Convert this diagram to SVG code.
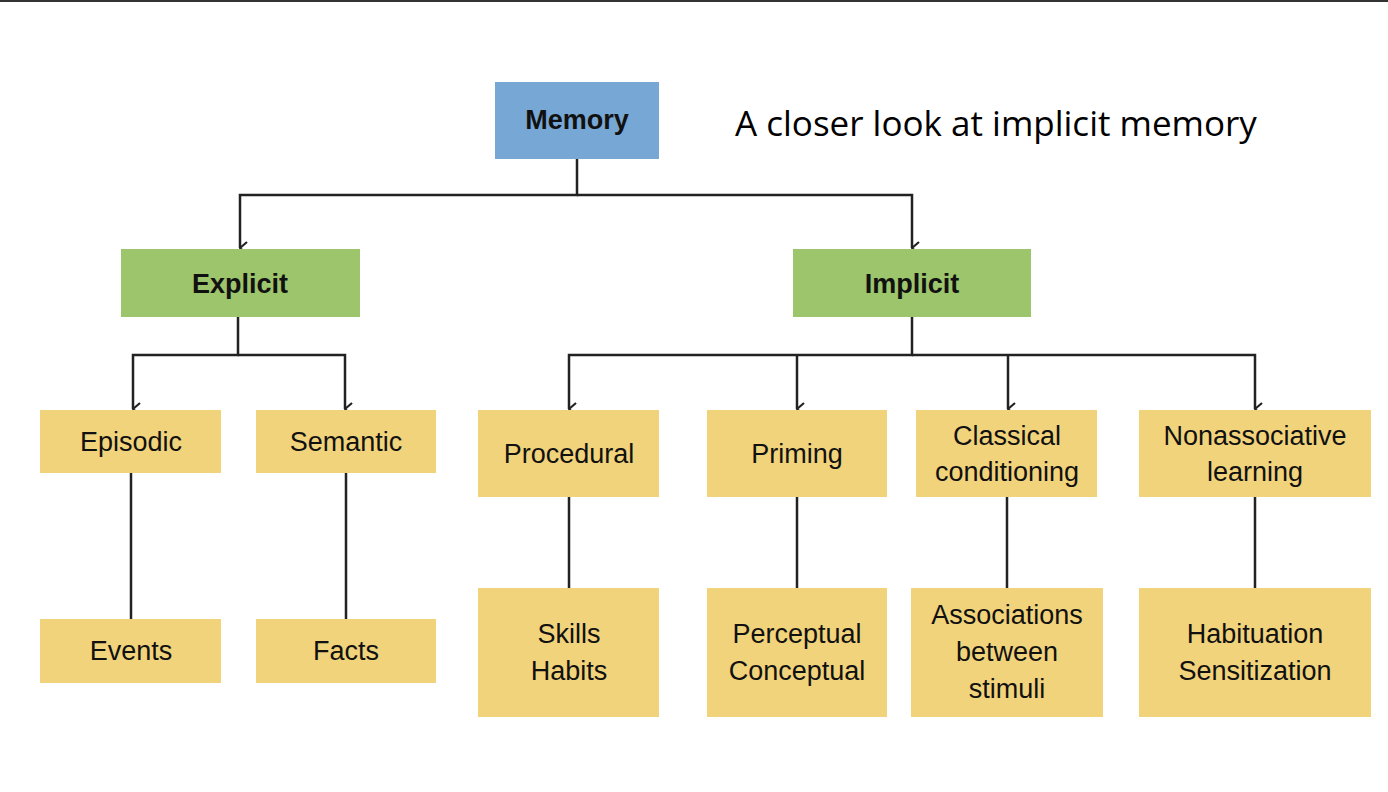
<svg xmlns="http://www.w3.org/2000/svg" width="1388" height="792" viewBox="0 0 1388 792">
<defs>
<style>
.y{fill:#f1d37b}
.t{font-family:"Liberation Sans",Arial,sans-serif;font-size:27px;fill:#111;text-anchor:middle}
.b{font-weight:bold}
.c{stroke:#222;stroke-width:2.5;fill:none}
</style>
<marker id="a" markerWidth="14" markerHeight="10" refX="7" refY="9" orient="auto" markerUnits="userSpaceOnUse" viewBox="0 0 14 10"><path d="M1 2 L7 9 L13 2" fill="none" stroke="#222" stroke-width="2.2"/></marker>
</defs>
<rect width="1388" height="792" fill="#fff"/>
<line x1="0" y1="1" x2="1388" y2="1" stroke="#333" stroke-width="2"/>
<text x="735" y="136" font-family="'Open Sans',sans-serif" font-size="35" fill="#000">A closer look at implicit memory</text>
<g id="connectors" class="c">
<path d="M577 159 V195 H240 V248" marker-end="url(#a)"/>
<path d="M577 195 H912 V248" marker-end="url(#a)"/>
<path d="M238 317 V355 H133 V409" marker-end="url(#a)"/>
<path d="M238 355 H345 V409" marker-end="url(#a)"/>
<path d="M912 317 V355 H569 V409" marker-end="url(#a)"/>
<path d="M797 355 V409" marker-end="url(#a)"/>
<path d="M1008 355 V409" marker-end="url(#a)"/>
<path d="M912 355 H1255 V409" marker-end="url(#a)"/>
<path d="M131 473 V619 M346 473 V619 M569 497 V588 M797 497 V588 M1007 497 V588 M1255 497 V588"/>
</g>
<g id="memory"><rect x="495" y="82" width="164" height="77" fill="#77a7d4"/><text class="t b" x="577" y="129">Memory</text></g>
<g id="explicit"><rect x="121" y="249" width="239" height="68" fill="#9dc56b"/><text class="t b" x="240" y="293">Explicit</text></g>
<g id="implicit"><rect x="793" y="249" width="238" height="68" fill="#9dc56b"/><text class="t b" x="912" y="293">Implicit</text></g>
<g id="episodic"><rect class="y" x="40" y="410" width="181" height="63"/><text class="t" x="131" y="451">Episodic</text></g>
<g id="semantic"><rect class="y" x="256" y="410" width="180" height="63"/><text class="t" x="346" y="451">Semantic</text></g>
<g id="events"><rect class="y" x="40" y="619" width="181" height="64"/><text class="t" x="131" y="660">Events</text></g>
<g id="facts"><rect class="y" x="256" y="619" width="180" height="64"/><text class="t" x="346" y="660">Facts</text></g>
<g id="procedural"><rect class="y" x="478" y="410" width="181" height="87"/><text class="t" x="569" y="463">Procedural</text></g>
<g id="priming"><rect class="y" x="707" y="410" width="180" height="87"/><text class="t" x="797" y="463">Priming</text></g>
<g id="classical"><rect class="y" x="916" y="410" width="181" height="87"/><text class="t" x="1007" y="445">Classical</text><text class="t" x="1007" y="481">conditioning</text></g>
<g id="nonassociative"><rect class="y" x="1139" y="410" width="232" height="87"/><text class="t" x="1255" y="445">Nonassociative</text><text class="t" x="1255" y="481">learning</text></g>
<g id="skills"><rect class="y" x="478" y="588" width="181" height="129"/><text class="t" x="569" y="643">Skills</text><text class="t" x="569" y="680">Habits</text></g>
<g id="perceptual"><rect class="y" x="707" y="588" width="180" height="129"/><text class="t" x="797" y="643">Perceptual</text><text class="t" x="797" y="680">Conceptual</text></g>
<g id="associations"><rect class="y" x="911" y="588" width="192" height="129"/><text class="t" x="1007" y="624">Associations</text><text class="t" x="1007" y="661">between</text><text class="t" x="1007" y="698">stimuli</text></g>
<g id="habituation"><rect class="y" x="1139" y="588" width="232" height="129"/><text class="t" x="1255" y="643">Habituation</text><text class="t" x="1255" y="680">Sensitization</text></g>
</svg>
